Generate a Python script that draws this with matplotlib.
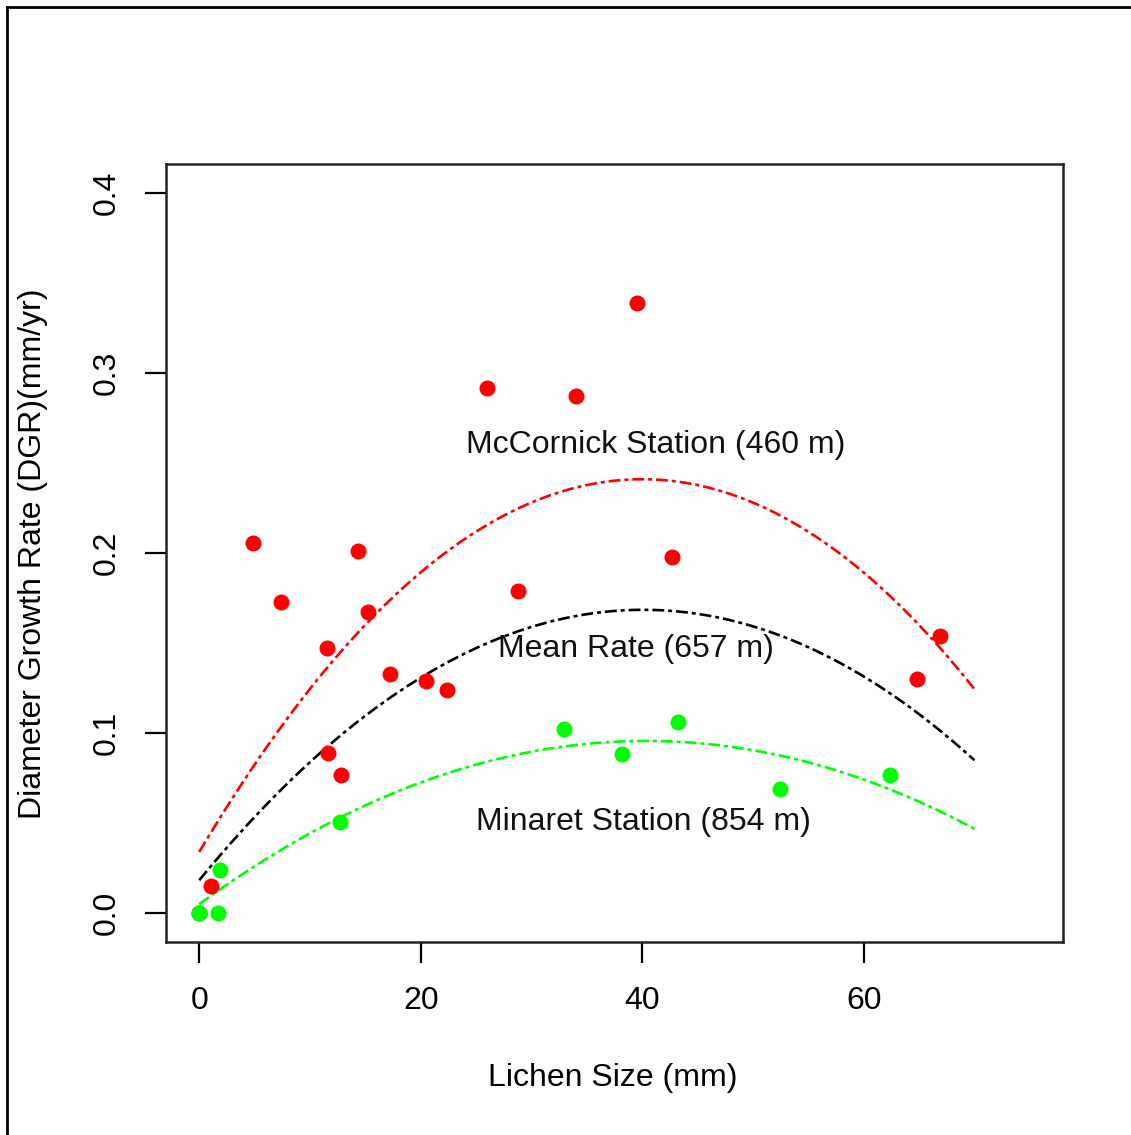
import numpy as np
import matplotlib
matplotlib.use("Agg")
import matplotlib.pyplot as plt
from matplotlib.lines import Line2D

plt.rcParams['font.family'] = ['Liberation Sans', 'DejaVu Sans']

# McCornick Station points (red)
red_x = [0.0, 1.1, 4.9, 7.4, 11.5, 11.6, 12.8, 14.3, 15.2, 17.2, 20.5, 22.4,
         26.0, 28.8, 34.0, 39.5, 42.7, 64.8, 66.9]
red_y = [0.0, 0.015, 0.2055, 0.173, 0.147, 0.089, 0.077, 0.201, 0.167, 0.133,
         0.129, 0.124, 0.2914, 0.179, 0.287, 0.339, 0.198, 0.130, 0.154]

# Minaret Station points (green)
grn_x = [0.0, 1.7, 1.9, 12.7, 32.9, 38.2, 43.2, 52.4, 62.4]
grn_y = [0.0, 0.0, 0.024, 0.0504, 0.102, 0.0886, 0.106, 0.069, 0.0765]

# quadratic fits, coefficients (c2, c1, c0)
red_fit = [-1.294e-4, 0.01035, 0.034]
mean_fit = [-9.34e-5, 0.00749, 0.0183]
grn_fit = [-5.56e-5, 0.00449, 0.005]

labels = ["McCornick Station (460 m)", "Mean Rate (657 m)", "Minaret Station (854 m)"]
label_x = [41.2, 39.4, 40.1]
label_y = [0.26, 0.1468, 0.0504]

fig = plt.figure(figsize=(11.31, 11.35), dpi=100)
ax = fig.add_axes([166/1131, 1-942/1135, (1063-166)/1131, (942-164)/1135])

xs = np.linspace(0, 70, 300)
dash = (0, (4.5, 1.5, 1.5, 1.5))
ax.plot(xs, np.polyval(red_fit, xs), color='#FF0000', lw=1.9, linestyle=dash)
ax.plot(xs, np.polyval(mean_fit, xs), color='black', lw=1.9, linestyle=dash)
ax.plot(xs, np.polyval(grn_fit, xs), color='#00FF00', lw=1.9, linestyle=dash)

ax.plot(red_x, red_y, 'o', color='#FF0000', ms=10.5, mec='#FF0000', zorder=3)
ax.plot(grn_x, grn_y, 'o', color='#00FF00', ms=10.5, mec='#00FF00', zorder=4)

for t, x, y in zip(labels, label_x, label_y):
    ax.text(x, y, t, ha='center', va='center', fontsize=23, color='#111111')

ax.set_xlim(-3, 78)
ax.set_ylim(-0.016, 0.416)
ax.set_xticks([0, 20, 40, 60])
ax.set_yticks([0.0, 0.1, 0.2, 0.3, 0.4])
ax.set_yticklabels(['0.0', '0.1', '0.2', '0.3', '0.4'], rotation=90, va='center')
ax.tick_params(axis='both', labelsize=23, length=15, width=1.6, pad=17)
for s in ax.spines.values():
    s.set_linewidth(1.8)
    s.set_color('#222222')

fig.text(33/1131, 1-554/1135, "Diameter Growth Rate (DGR)(mm/yr)", rotation=90,
         ha='center', va='center', fontsize=23)
fig.text(613/1131, 1-1078/1135, "Lichen Size (mm)", ha='center', va='center', fontsize=23)

# outer frame (left and top only)
fx, fy = 7/1131, 1-7/1135
fig.add_artist(Line2D([fx, fx], [0, fy], transform=fig.transFigure, color='black', lw=2))
fig.add_artist(Line2D([fx, 1], [fy, fy], transform=fig.transFigure, color='black', lw=2))

fig.savefig("out.png", dpi=100)
